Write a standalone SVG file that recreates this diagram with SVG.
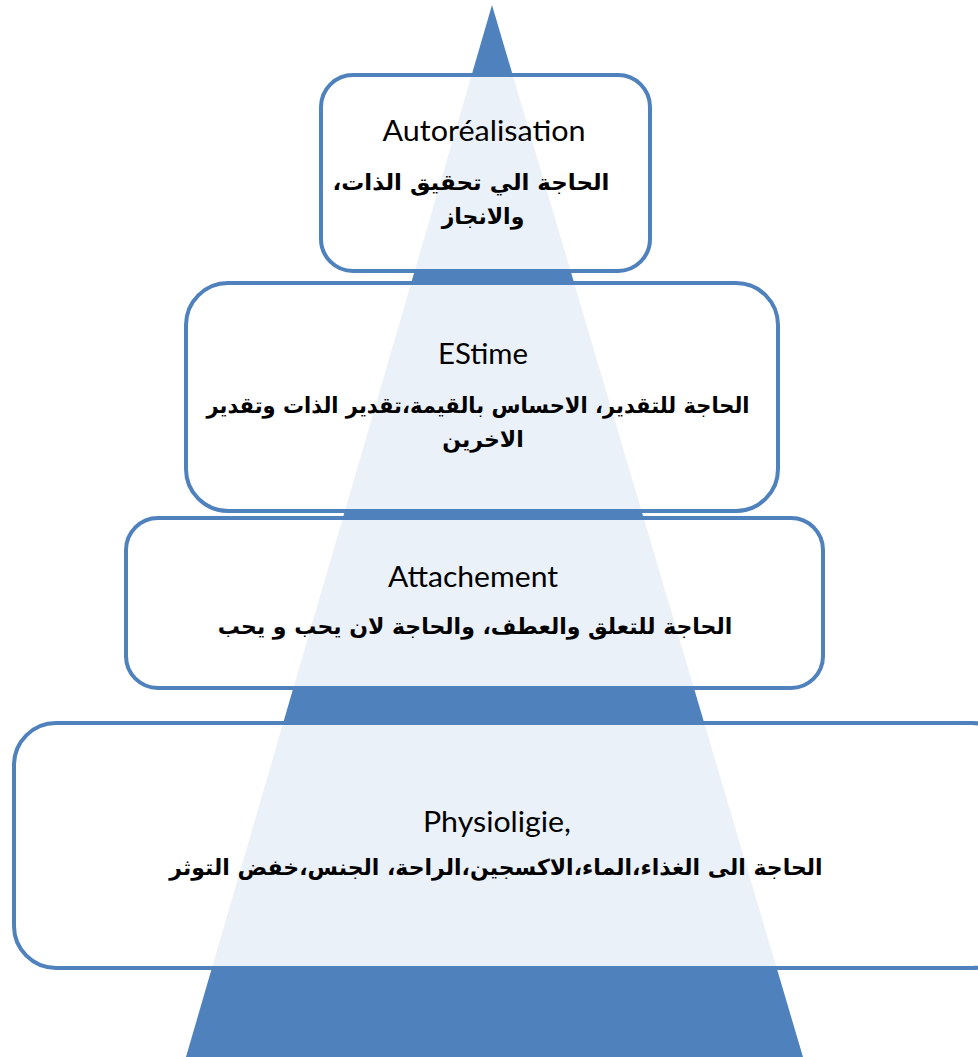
<svg xmlns="http://www.w3.org/2000/svg" width="978" height="1057" viewBox="0 0 978 1057">
<style>
.box{fill:#ffffff;fill-opacity:0.89;stroke:#4f81bd;stroke-width:4}
.lat{font-family:Lato,"Open Sans","Liberation Sans",sans-serif;font-size:28px;fill:#000;text-anchor:middle}
.ar{font-family:"DejaVu Sans","Noto Sans",sans-serif;font-weight:bold;font-size:22px;fill:#000;text-anchor:middle;direction:rtl}
</style>
<rect width="978" height="1057" fill="#ffffff"/>
<polygon id="pyramid" points="492,5 803,1057 186,1057" fill="#4f81bd"/>
<g id="connectors"></g>
<g id="node-autorealisation">
<rect class="box" x="321" y="75" width="329" height="196" rx="32"/>
<text class="lat" x="484" y="141" textLength="203" lengthAdjust="spacingAndGlyphs">Autoréalisation</text>
<text class="ar" x="471" y="190" textLength="277" lengthAdjust="spacingAndGlyphs">الحاجة الي تحقيق الذات،</text>
<text class="ar" x="483" y="224">والانجاز</text>
</g>
<g id="node-estime">
<rect class="box" x="186" y="283" width="592" height="228" rx="42"/>
<text class="lat" x="483" y="364" textLength="90" lengthAdjust="spacingAndGlyphs">EStime</text>
<text class="ar" x="478" y="413" textLength="543" lengthAdjust="spacingAndGlyphs">الحاجة للتقدير، الاحساس بالقيمة،تقدير الذات وتقدير</text>
<text class="ar" x="483" y="447">الاخرين</text>
</g>
<g id="node-attachement">
<rect class="box" x="126" y="518" width="697" height="170" rx="32"/>
<text class="lat" x="473" y="587" textLength="170" lengthAdjust="spacingAndGlyphs">Attachement</text>
<text class="ar" x="475" y="634">الحاجة للتعلق والعطف، والحاجة لان يحب و يحب</text>
</g>
<g id="node-physiologie">
<rect class="box" x="14" y="723" width="1000" height="245" rx="42"/>
<text class="lat" x="497" y="832" textLength="148" lengthAdjust="spacingAndGlyphs">Physioligie,</text>
<text class="ar" x="496" y="875">الحاجة الى الغذاء،الماء،الاكسجين،الراحة، الجنس،خفض التوثر</text>
</g>
</svg>
